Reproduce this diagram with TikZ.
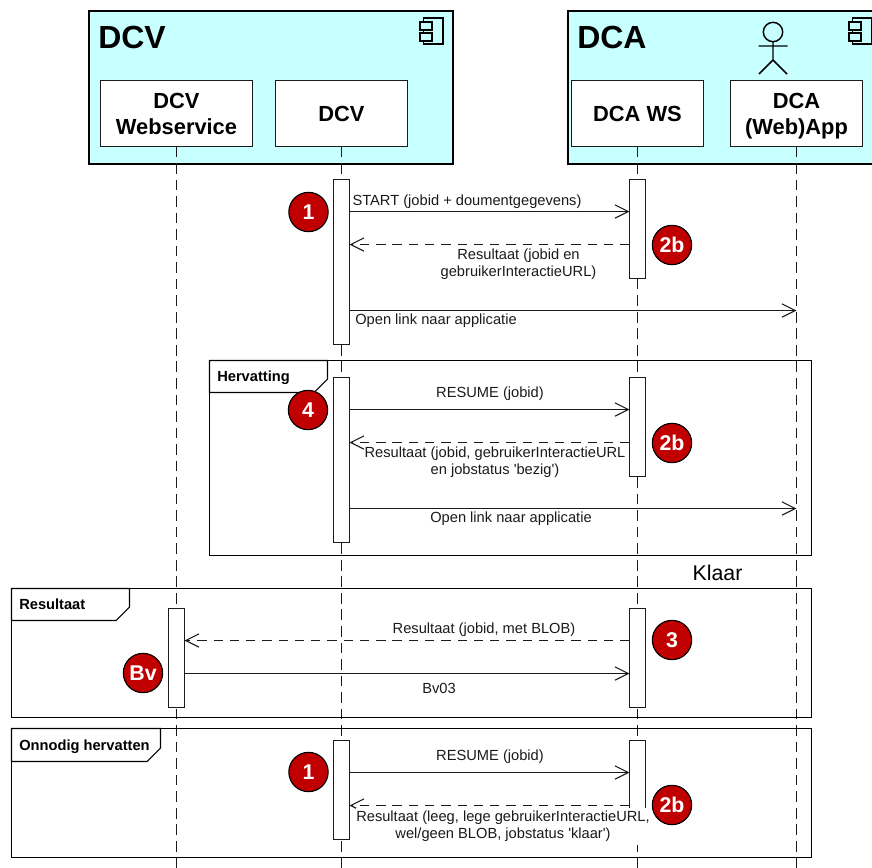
\documentclass[tikz,border=0pt]{standalone}
\usepackage{fontspec}
\setmainfont{Liberation Sans}
\newfontfamily\straightfont{Liberation Sans}
\newcommand{\sq}{{\straightfont'}}
\definecolor{aqua}{HTML}{C8FFFF}
\definecolor{badge}{HTML}{C00000}
\definecolor{ink}{HTML}{1A1A1A}
\tikzset{
  x=0.75pt,y=-0.75pt,
  compframe/.style={draw=black,line width=1.5pt,fill=aqua},
  lifebox/.style={draw=ink,line width=0.8pt,fill=white,minimum width=99pt,minimum height=49.5pt,inner sep=0pt,outer sep=0pt,align=center,font=\fontsize{16.4}{19.5}\selectfont\bfseries},
  lifeline/.style={draw=ink,line width=0.85pt,dash pattern=on 8pt off 4.4pt},
  actbox/.style={draw=ink,line width=0.85pt,fill=white,minimum width=12pt,inner sep=0pt,outer sep=0pt},
  msgbase/.style={draw=ink,line width=0.8pt},
  opentip/.style={-{Straight Barb[length=10pt,width=10pt,line width=0.8pt]}},
  call/.style={msgbase,opentip},
  reply/.style={msgbase,opentip,dash pattern=on 7pt off 5.2pt},
  msglabel/.style={align=center,inner sep=0pt,font=\fontsize{11}{12.75}\selectfont,text=ink},
  sdframe/.style={draw=black,line width=0.8pt},
  sdtab/.style={draw=black,line width=0.8pt,fill=white},
  tablabel/.style={anchor=base west,inner sep=0pt,font=\fontsize{11}{12}\selectfont\bfseries},
  titletext/.style={anchor=base west,inner sep=0pt,font=\fontsize{24}{28}\selectfont\bfseries},
  numbadge/.style={circle,draw=black,line width=0.85pt,fill=badge,minimum size=29.5pt,inner sep=0pt,text=white,font=\fontsize{16}{18}\selectfont\bfseries},
  iconline/.style={draw=black,line width=1.1pt,fill=aqua},
}
\usetikzlibrary{arrows.meta}
\newcommand{\activation}[4]{%
  \pgfmathsetmacro{\actH}{(#4-#3)*0.75}%
  \pgfmathsetmacro{\actY}{(#4+#3)/2}%
  \node[actbox,minimum height=\actH pt] (#1) at (#2,\actY) {};}
\newcommand{\compicon}[2]{%
  \begin{scope}[shift={(#1,#2)}]
    \draw[iconline] (3.5,0) rectangle (23,26);
    \draw[iconline] (0,4) rectangle (12,12);
    \draw[iconline] (0,15) rectangle (12,23);
  \end{scope}}
\begin{document}
\begin{tikzpicture}
\useasboundingbox (0,0) rectangle (872,868);
% component frames
\draw[compframe] (89,10.5) rectangle (453,164);
\draw[compframe] (568,10.5) rectangle (883,164);
\node[titletext] (dcvtitle) at (98,48) {DCV};
\node[titletext] (dcatitle) at (577,48) {DCA};
\compicon{420}{18}
\compicon{849}{18}
% actor
\draw[black,line width=1.1pt] (773,32) circle (9.7);
\draw[black,line width=1.1pt] (758.7,46) -- (787.7,46) (773,41.7) -- (773,60) (759,74) -- (773,60) -- (787,74);
% lifeline heads
\node[lifebox,minimum width=114pt] (ws) at (176.5,113.5) {DCV\\Webservice};
\node[lifebox] (dcv) at (341.5,113.5) {DCV};
\node[lifebox] (dcaws) at (637.5,113.5) {DCA WS};
\node[lifebox] (app) at (796.5,113.5) {DCA\\\smash{(Web)App}};
% lifeline ends
\coordinate (wsend) at (ws.south |- 0,868);
\coordinate (dcvend) at (dcv.south |- 0,868);
\coordinate (dcawsend) at (dcaws.south |- 0,868);
\coordinate (append) at (app.south |- 0,868);
\draw[lifeline] (ws.south) -- (wsend);
\draw[lifeline] (dcv.south) -- (dcvend);
\draw[lifeline] (dcaws.south) -- (dcawsend);
\draw[lifeline] (app.south) -- (append);
% combined fragments
\draw[sdframe] (209.5,360.5) rectangle (811.5,555.5);
\draw[sdtab] (209.5,360.5) -- (327.5,360.5) -- (327.5,379) -- (314,392.5) -- (209.5,392.5) -- cycle;
\node[tablabel] (t1) at (217,381) {Hervatting};
\draw[sdframe] (11.5,588.5) rectangle (811.5,717.5);
\draw[sdtab] (11.5,588.5) -- (129.5,588.5) -- (129.5,607) -- (116,620.5) -- (11.5,620.5) -- cycle;
\node[tablabel] (t2) at (19,609) {Resultaat};
\draw[sdframe] (11.5,728.5) rectangle (811.5,857.5);
\draw[sdtab] (11.5,728.5) -- (160.5,728.5) -- (160.5,748) -- (147,761.5) -- (11.5,761.5) -- cycle;
\node[tablabel] (t3) at (19,750) {Onnodig hervatten};
\node[inner sep=0pt,font=\fontsize{16}{18}\selectfont,anchor=base] (klaar) at (717.5,580) {Klaar};
% activations
\activation{a1}{341.5}{179.5}{344.5}
\activation{b1}{637.5}{179.5}{278.5}
\activation{a2}{341.5}{377.5}{542.5}
\activation{b2}{637.5}{377.5}{476.5}
\activation{w3}{176.5}{608.5}{707.5}
\activation{b3}{637.5}{608.5}{707.5}
\activation{a4}{341.5}{740.5}{839.5}
\activation{b4}{637.5}{740.5}{839.5}
% messages
\draw[call] (a1.east |- 0,211.5) -- (b1.west |- 0,211.5);
\draw[reply] (b1.west |- 0,244.5) -- (a1.east |- 0,244.5);
\draw[call] (a1.east |- 0,310.5) -- (app.south |- 0,310.5);
\draw[call] (a2.east |- 0,409.5) -- (b2.west |- 0,409.5);
\draw[reply] (b2.west |- 0,442.5) -- (a2.east |- 0,442.5);
\draw[call] (a2.east |- 0,508.5) -- (app.south |- 0,508.5);
\draw[reply] (b3.west |- 0,640.5) -- (w3.east |- 0,640.5);
\draw[call] (w3.east |- 0,673.5) -- (b3.west |- 0,673.5);
\draw[call] (a4.east |- 0,772.5) -- (b4.west |- 0,772.5);
\draw[reply] (b4.west |- 0,805.5) -- (a4.east |- 0,805.5);
% labels
\node[msglabel] (m1) at (467,202) {START (jobid + doumentgegevens)};
\node[msglabel] (m2) at (518.5,264) {Resultaat (jobid en\\gebruikerInteractieURL)};
\node[msglabel] (m3) at (436,321) {Open link naar applicatie};
\node[msglabel] (m4) at (490,394) {RESUME (jobid)};
\node[msglabel] (m5) at (495,462) {Resultaat (jobid, gebruikerInteractieURL\\en jobstatus \sq bezig\sq)};
\node[msglabel] (m6) at (511,519) {Open link naar applicatie};
\node[msglabel] (m7) at (484,630) {Resultaat (jobid, met BLOB)};
\node[msglabel] (m8) at (439,688) {Bv03};
\node[msglabel] (m9) at (490,757) {RESUME (jobid)};
\node[msglabel,fill=white,minimum width=220.5pt,minimum height=27.75pt] (m10) at (503,826.5) {Resultaat (leeg, lege gebruikerInteractieURL,\\wel/geen BLOB, jobstatus \sq klaar\sq)};
% badges
\node[numbadge] (n1) at (308.5,212) {1};
\node[numbadge] (n2) at (672,245) {2b};
\node[numbadge] (n3) at (308,410) {4};
\node[numbadge] (n4) at (672,443) {2b};
\node[numbadge] (n5) at (672,640) {3};
\node[numbadge] (n6) at (143,673) {Bv};
\node[numbadge] (n7) at (308.5,772) {1};
\node[numbadge] (n8) at (672,805) {2b};
\end{tikzpicture}
\end{document}
